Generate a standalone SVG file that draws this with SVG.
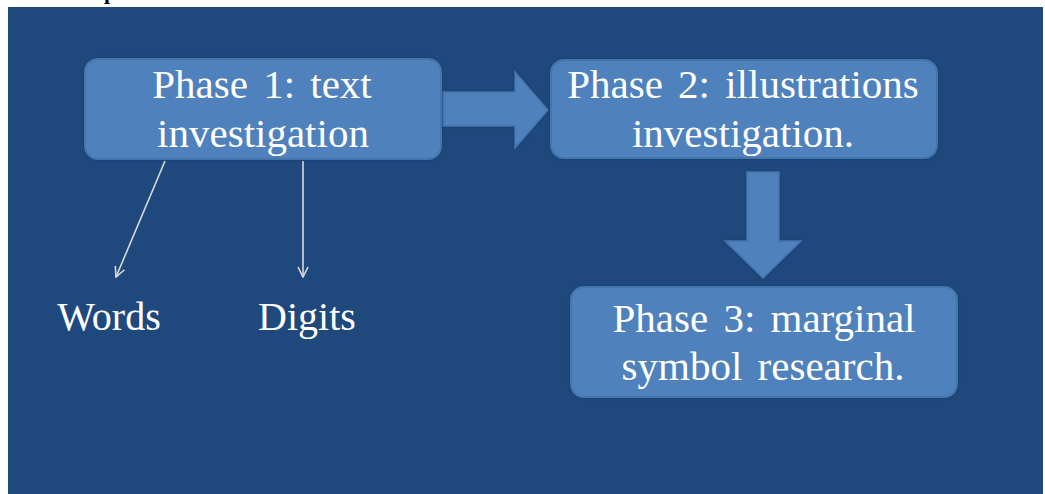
<svg xmlns="http://www.w3.org/2000/svg" width="1045" height="494" viewBox="0 0 1045 494">
  <style>
    .box { fill: #4f81bd; stroke: #4574ad; stroke-width: 2; filter: url(#soft); }
    .block { fill: #4f81bd; stroke: #4574ad; stroke-width: 1.5; filter: url(#soft); }
    .label { font-family: "Liberation Serif", "Times New Roman", serif; font-size: 40px; fill: #ffffff; text-anchor: middle; }
    .boxlabel { font-size: 41px; word-spacing: 5px; }
    .thin { stroke: #d9d9d9; stroke-width: 1.6; fill: none; marker-end: url(#open); }
  </style>
  <defs>
    <filter id="soft" x="-10%" y="-10%" width="120%" height="120%">
      <feGaussianBlur in="SourceAlpha" stdDeviation="1.6" result="b"/>
      <feFlood flood-color="#14335e" flood-opacity="0.6"/>
      <feComposite in2="b" operator="in" result="halo"/>
      <feGaussianBlur in="SourceGraphic" stdDeviation="0.5" result="s"/>
      <feMerge>
        <feMergeNode in="halo"/>
        <feMergeNode in="s"/>
      </feMerge>
    </filter>
    <marker id="open" viewBox="0 0 12 12" refX="11" refY="6" markerWidth="12" markerHeight="12" markerUnits="userSpaceOnUse" orient="auto">
      <path d="M1,1 L11,6 L1,11" fill="none" stroke="#d9d9d9" stroke-width="1.6"/>
    </marker>
  </defs>

  <!-- page and slide background -->
  <rect x="0" y="0" width="1045" height="494" fill="#ffffff"/>
  <text x="104" y="-1.5" font-family="Liberation Serif, serif" font-weight="bold" font-size="22" fill="#000000">p</text>
  <rect x="8" y="7" width="1035" height="487" fill="#1f497d"/>

  <!-- connectors -->
  <g id="connectors">
    <path class="block" d="M443,92 L515,92 L515,72 L548,110 L515,148 L515,126 L443,126 Z"/>
    <path class="block" d="M747,172 L779,172 L779,241 L801,241 L763,278 L725,241 L747,241 Z"/>
    <line class="thin" x1="165" y1="161" x2="116" y2="277"/>
    <line class="thin" x1="303" y1="161" x2="303" y2="277"/>
  </g>

  <g id="phase1">
    <rect class="box" x="85" y="59" width="356" height="100" rx="13"/>
    <text class="label boxlabel" x="262" y="98">Phase 1: text</text>
    <text class="label boxlabel" x="263" y="147">investigation</text>
  </g>

  <g id="phase2">
    <rect class="box" x="551" y="60" width="386" height="98" rx="13"/>
    <text class="label boxlabel" x="743" y="98">Phase 2: illustrations</text>
    <text class="label boxlabel" x="743" y="147">investigation.</text>
  </g>

  <g id="phase3">
    <rect class="box" x="571" y="287" width="386" height="110" rx="13"/>
    <text class="label boxlabel" x="764" y="332">Phase 3: marginal</text>
    <text class="label boxlabel" x="763" y="380">symbol research.</text>
  </g>

  <g id="words">
    <text class="label" x="109" y="330">Words</text>
  </g>
  <g id="digits">
    <text class="label" x="307" y="330">Digits</text>
  </g>
</svg>
